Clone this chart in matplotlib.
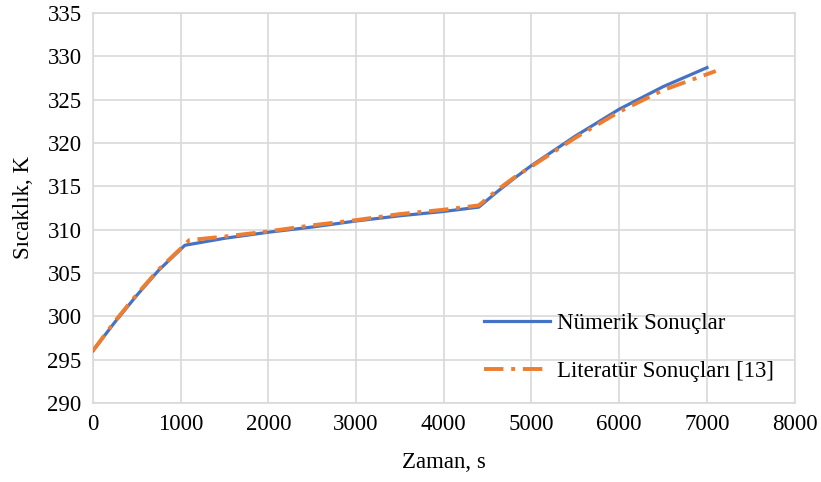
import matplotlib
matplotlib.use("Agg")
import matplotlib.pyplot as plt

# Numerical results
num_t = [0, 250, 500, 750, 1050, 1500, 2000, 2500, 3000, 3500, 4000, 4400,
         4600, 4800, 5000, 5500, 6000, 6500, 7000]
num_T = [296.0, 299.3, 302.4, 305.3, 308.2, 309.0, 309.7, 310.3, 311.0, 311.6, 312.1, 312.6,
         314.3, 315.9, 317.4, 320.8, 323.9, 326.5, 328.7]

# Literature results [13]
lit_t = [0, 250, 500, 750, 1000, 1100, 1500, 2000, 2500, 3000, 3500, 4000, 4400,
         4600, 4800, 5000, 5500, 6000, 6500, 7100]
lit_T = [296.0, 299.4, 302.5, 305.4, 307.8, 308.8, 309.2, 309.8, 310.5, 311.1, 311.8, 312.3, 312.8,
         314.5, 316.0, 317.3, 320.6, 323.6, 326.1, 328.3]

x_ticks = [0, 1000, 2000, 3000, 4000, 5000, 6000, 7000, 8000]
y_ticks = [290, 295, 300, 305, 310, 315, 320, 325, 330, 335]

plt.rcParams['font.family'] = ['Liberation Serif', 'DejaVu Serif']

fig = plt.figure(figsize=(8.21, 4.82), dpi=100)
ax = fig.add_axes([0.113, 0.164, 0.855, 0.809])

ax.plot(num_t, num_T, color='#4472C4', lw=2.3, label='Nümerik Sonuçlar', zorder=3)
ax.plot(lit_t, lit_T, color='#ED7D31', lw=2.8, linestyle=(0, (5, 2, 1, 2)),
        label='Literatür Sonuçları [13]', zorder=4)

ax.set_xlim(0, 8000)
ax.set_ylim(290, 335)
ax.set_xticks(x_ticks)
ax.set_yticks(y_ticks)
ax.tick_params(length=0, labelsize=16.5, colors='#000000', pad=8)
ax.grid(True, color='#D9D9D9', lw=1.2)
ax.set_axisbelow(True)
for s in ax.spines.values():
    s.set_color('#D9D9D9')
    s.set_linewidth(1.2)

ax.set_xlabel('Zaman, s', fontsize=16.5, labelpad=12)
ax.set_ylabel('Sıcaklık, K', fontsize=16.5, labelpad=10)

leg = ax.legend(loc='lower right', bbox_to_anchor=(1.0, 0.0), frameon=False,
                fontsize=16.5, handlelength=2.9, handletextpad=0.3, labelspacing=1.2)

fig.savefig('out.png', dpi=100)
